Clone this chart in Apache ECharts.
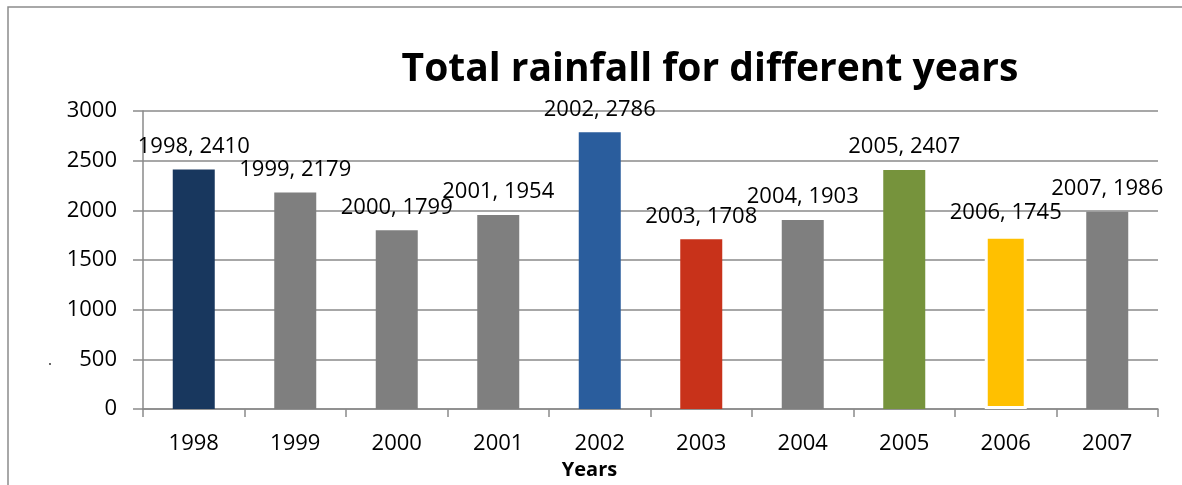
<!DOCTYPE html>
<html>
<head>
<meta charset="utf-8">
<script src="https://cdn.jsdelivr.net/npm/echarts@6/dist/echarts.min.js"></script>
<style>
  html, body { margin: 0; padding: 0; background: #fff; }
  #chart { width: 1182px; height: 485px; }
</style>
</head>
<body>
<div id="chart"></div>
<script>
// Annual rainfall totals
const years = ['1998', '1999', '2000', '2001', '2002', '2003', '2004', '2005', '2006', '2007'];
const rainfall = [2410, 2179, 1799, 1954, 2786, 1708, 1903, 2407, 1745, 1986];
const barColors = ['#18375e', '#7f7f7f', '#7f7f7f', '#7f7f7f', '#2a5d9d', '#c8321a', '#7f7f7f', '#76933c', '#ffc000', '#7f7f7f'];
const yTicks = { min: 0, max: 3000, step: 500 };

const FONT = '"Open Sans", "Noto Sans", sans-serif';
const GRID_GREY = '#8a8a8a';

const chart = echarts.init(document.getElementById('chart'), null, { renderer: 'canvas' });

const barData = rainfall.map((v, i) => {
  const item = { value: v, itemStyle: { color: barColors[i] } };
  if (years[i] === '2006') {
    // this bar carries a white outline, so it reads slightly narrower
    item.itemStyle.borderColor = '#ffffff';
    item.itemStyle.borderWidth = 3;
  }
  return item;
});

chart.setOption({
  backgroundColor: '#ffffff',
  animation: false,
  title: {
    text: 'Total rainfall for different years',
    left: 705,
    textAlign: 'center',
    top: 45,
    textStyle: { fontFamily: FONT, fontWeight: 'bold', fontSize: 39, color: '#000' }
  },
  graphic: [
    {
      type: 'rect',
      silent: true,
      shape: { x: 8, y: 7, width: 1300, height: 600 },
      style: { fill: 'none', stroke: '#8c8c8c', lineWidth: 1.5 }
    },
    {
      type: 'circle',
      silent: true,
      shape: { cx: 50, cy: 364, r: 0.9 },
      style: { fill: '#222' }
    }
  ],
  grid: { left: 143, right: 24, top: 111, bottom: 75, containLabel: false },
  xAxis: {
    type: 'category',
    data: years,
    name: 'Years',
    nameLocation: 'middle',
    nameGap: 51,
    nameTextStyle: {
      fontFamily: FONT, fontWeight: 'bold', fontSize: 20, color: '#000',
      padding: [0, 122, 0, 0]
    },
    axisLine: { show: true, lineStyle: { color: GRID_GREY, width: 1.5 } },
    axisTick: { show: true, alignWithLabel: false, length: 8, lineStyle: { color: GRID_GREY, width: 1.5 } },
    axisLabel: { fontFamily: FONT, fontSize: 22, color: '#000', margin: 24 },
    splitLine: { show: false }
  },
  yAxis: {
    type: 'value',
    min: yTicks.min,
    max: yTicks.max,
    interval: yTicks.step,
    axisLine: { show: true, lineStyle: { color: GRID_GREY, width: 1.5 } },
    axisTick: { show: true, length: 10, lineStyle: { color: GRID_GREY, width: 1.5 } },
    axisLabel: { fontFamily: FONT, fontSize: 22, color: '#000', margin: 26, formatter: v => String(v) },
    splitLine: { show: true, lineStyle: { color: GRID_GREY, width: 1.5 } }
  },
  series: [{
    type: 'bar',
    data: barData,
    barWidth: 42,
    label: {
      show: true,
      position: 'top',
      distance: 12,
      fontFamily: FONT,
      fontSize: 22,
      color: '#000',
      formatter: p => p.name + ', ' + p.value
    }
  }]
});
</script>
</body>
</html>
